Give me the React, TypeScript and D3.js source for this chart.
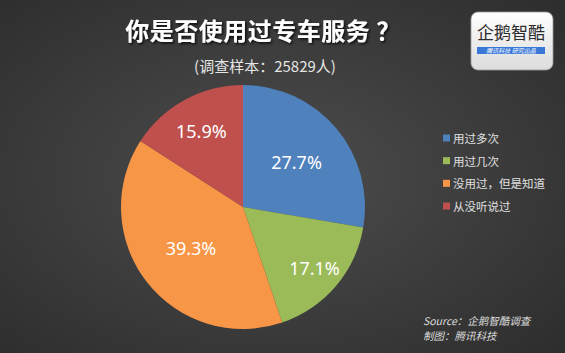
import React, { useRef, useEffect } from "react";
import * as d3 from "d3";

const categories = ["用过多次", "用过几次", "没用过，但是知道", "从没听说过"];
const values = [27.7, 17.1, 39.3, 15.9];
const colors = ["#4f81bd", "#9bbb59", "#f79646", "#c0504d"];

const title = "你是否使用过专车服务 ？";
const subtitle = "(调查样本：25829人)";
const sourceLines = ["Source：企鹅智酷调查", "制图：腾讯科技"];

const App = () => {
    const plot = useRef<SVGSVGElement>(null);

    const width = 565;
    const height = 353;
    const cx = 243;
    const cy = 207;
    const radius = 122;
    // label distance from centre, per slice (excel best-fit placement)
    const labelR = [70, 94, 66, 87];

    useEffect(() => {
        document.body.style.margin = "0";
        const svg = d3.select(plot.current);
        svg.selectAll("*").remove();

        const defs = svg.append("defs");
        const bg = defs.append("radialGradient")
            .attr("id", "bg")
            .attr("cx", "48%").attr("cy", "50%").attr("r", "70%");
        bg.append("stop").attr("offset", "0%").attr("stop-color", "#4d4d4d");
        bg.append("stop").attr("offset", "100%").attr("stop-color", "#2e2e2e");

        const logoGrad = defs.append("linearGradient")
            .attr("id", "logo")
            .attr("x1", 0).attr("y1", 0).attr("x2", 0).attr("y2", 1);
        logoGrad.append("stop").attr("offset", "0%").attr("stop-color", "#ffffff");
        logoGrad.append("stop").attr("offset", "100%").attr("stop-color", "#dcdcdc");

        const shadow = defs.append("filter").attr("id", "shadow")
            .attr("x", "-10%").attr("y", "-30%").attr("width", "130%").attr("height", "170%");
        shadow.append("feDropShadow")
            .attr("dx", 1.5).attr("dy", 1.5).attr("stdDeviation", 1.2)
            .attr("flood-color", "#000").attr("flood-opacity", 0.8);

        svg.append("rect")
            .attr("width", width).attr("height", height)
            .attr("fill", "url(#bg)");

        // title
        svg.append("text")
            .attr("x", 263).attr("y", 40)
            .attr("text-anchor", "middle")
            .attr("font-family", "'Noto Sans CJK SC', sans-serif")
            .attr("font-weight", "bold")
            .attr("font-size", 24)
            .attr("letter-spacing", 0.5)
            .attr("fill", "#ffffff")
            .attr("filter", "url(#shadow)")
            .text(title);

        svg.append("text")
            .attr("x", 265).attr("y", 72)
            .attr("text-anchor", "middle")
            .attr("font-family", "'Noto Sans CJK SC', sans-serif")
            .attr("font-size", 15)
            .attr("fill", "#e6e6e6")
            .text(subtitle);

        // logo
        const logo = svg.append("g");
        logo.append("rect")
            .attr("x", 471).attr("y", 12)
            .attr("width", 82).attr("height", 58)
            .attr("rx", 7)
            .attr("fill", "url(#logo)")
            .attr("stroke", "#9a9a9a")
            .attr("stroke-width", 0.8);
        logo.append("text")
            .attr("x", 511).attr("y", 39)
            .attr("text-anchor", "middle")
            .attr("font-family", "'Noto Sans CJK SC', sans-serif")
            .attr("font-size", 17)
            .attr("fill", "#2b2b2b")
            .text("企鹅智酷");
        logo.append("rect")
            .attr("x", 477).attr("y", 47)
            .attr("width", 68).attr("height", 7)
            .attr("fill", "#3a78d8");
        logo.append("text")
            .attr("x", 511).attr("y", 53)
            .attr("text-anchor", "middle")
            .attr("font-family", "'Noto Sans CJK SC', sans-serif")
            .attr("font-size", 6)
            .attr("font-style", "italic")
            .attr("fill", "#ffffff")
            .text("腾讯科技  研究出品");

        // pie
        const pie = d3.pie<number>().sort(null).value(d => d)(values);
        const arc = d3.arc<d3.PieArcDatum<number>>().innerRadius(0).outerRadius(radius);

        const g = svg.append("g").attr("transform", `translate(${cx}, ${cy})`);
        g.selectAll("path")
            .data(pie)
            .join("path")
            .attr("d", arc)
            .attr("fill", (d, i) => colors[i]);

        g.selectAll("text")
            .data(pie)
            .join("text")
            .attr("transform", (d, i) => {
                const c = d3.arc<d3.PieArcDatum<number>>()
                    .innerRadius(labelR[i]).outerRadius(labelR[i]).centroid(d);
                return `translate(${c[0]}, ${c[1]})`;
            })
            .attr("text-anchor", "middle")
            .attr("dominant-baseline", "central")
            .attr("font-family", "'Noto Sans', sans-serif")
            .attr("font-size", 18)
            .attr("fill", "#ffffff")
            .text(d => `${d.data.toFixed(1)}%`);

        // legend
        const y = d3.scalePoint<string>()
            .domain(categories)
            .range([138, 206]);
        const legend = svg.append("g")
            .selectAll("g")
            .data(categories)
            .join("g")
            .attr("transform", d => `translate(443, ${y(d)})`);
        legend.append("rect")
            .attr("x", 0).attr("y", -3.5)
            .attr("width", 7).attr("height", 7)
            .attr("fill", (d, i) => colors[i]);
        legend.append("text")
            .attr("x", 10).attr("y", 0)
            .attr("dominant-baseline", "central")
            .attr("font-family", "'Noto Sans CJK SC', sans-serif")
            .attr("font-size", 11.5)
            .attr("fill", "#e0e0e0")
            .text(d => d);

        // source
        svg.append("g")
            .selectAll("text")
            .data(sourceLines)
            .join("text")
            .attr("x", 423)
            .attr("y", (d, i) => 325 + i * 15)
            .attr("font-family", "'Noto Sans CJK SC', sans-serif")
            .attr("font-size", 10.5)
            .attr("font-style", "italic")
            .attr("fill", "#dddddd")
            .text(d => d);
    });

    return (
        <svg ref={plot} width={width} height={height} style={{ display: "block" }} />
    );
};

export default App;
